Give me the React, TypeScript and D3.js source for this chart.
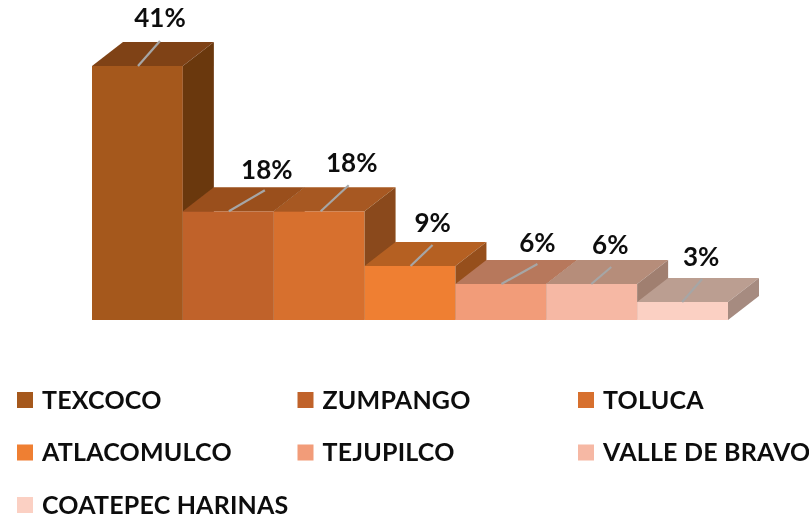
import React from "react";
import * as d3 from "d3";

const categories = ["TEXCOCO", "ZUMPANGO", "TOLUCA", "ATLACOMULCO", "TEJUPILCO", "VALLE DE BRAVO", "COATEPEC HARINAS"];
const labels = ["41%", "18%", "18%", "9%", "6%", "6%", "3%"];
const values = [42.3, 18.1, 18.1, 9, 6, 6, 3];
const frontColors = ["#A5591F", "#C0622A", "#D7702F", "#EF7F30", "#F29C79", "#F6B8A4", "#FBD0C3"];
const topColors = ["#7F4318", "#9A501D", "#A75920", "#B56023", "#B7785C", "#B68D7A", "#BB9E91"];
const sideColors = ["#6B3811", "#7F4318", "#8A4A1A", "#964F1C", "#A47A66", "#A07F70", "#A68B80"];

const W = 809, H = 519;
const baseY = 320, dx = 31, dy = -24;
const x = d3.scaleBand<string>().domain(categories).range([92, 728]);
const y = d3.scaleLinear().domain([0, 42.3]).range([baseY, 66]);

// label text centres and leader-line ends relative to each bar's front-top
const labelOffsets = [[68, -49], [84, -42], [78, -49], [68, -44], [82, -42], [64, -40], [64, -46]];
const leaderFrom = [46, 46, 47, 46, 46, 45, 45];
const leaderTo = [[68, -25], [82, -21], [75, -26], [68, -21], [82, -20], [65, -17], [65, -23]];

const legendCols = d3.scalePoint<number>().domain([0, 1, 2]).range([17, 578]);
const legendRows = d3.scalePoint<number>().domain([0, 1, 2]).range([400, 505]);

const poly = d3.line();

export default function App() {
  return (
    <svg width={W} height={H} style={{ position: "absolute", left: 0, top: 0, background: "#fff" }}
      fontFamily="Lato, Carlito, sans-serif">
      <defs>
        <filter id="soft" x="-5%" y="-5%" width="110%" height="110%">
          <feGaussianBlur stdDeviation="0.45" />
        </filter>
      </defs>
      <g filter="url(#soft)">
        {categories.map((c, i) => {
          const x0 = x(c)!, x1 = x0 + x.bandwidth(), t = y(values[i]);
          return (
            <g key={c}>
              <rect x={x0} y={t} width={x.bandwidth()} height={baseY - t} fill={frontColors[i]} />
              <path d={poly([[x0, t], [x0 + dx, t + dy], [x1 + dx, t + dy], [x1, t]])! + "Z"} fill={topColors[i]} />
              <path d={poly([[x1, t], [x1 + dx, t + dy], [x1 + dx, baseY + dy], [x1, baseY]])! + "Z"} fill={sideColors[i]} />
            </g>
          );
        })}
        {categories.map((c, i) => {
          const x0 = x(c)!, t = y(values[i]);
          return (
            <line key={c} x1={x0 + leaderFrom[i]} y1={t} x2={x0 + leaderTo[i][0]} y2={t + leaderTo[i][1]}
              stroke="#A6A6A6" strokeWidth={2.2} />
          );
        })}
        {categories.map((c, i) => {
          const x0 = x(c)!, t = y(values[i]);
          return (
            <text key={c} x={x0 + labelOffsets[i][0]} y={t + labelOffsets[i][1]} textAnchor="middle"
              dominantBaseline="central" fontSize={26} fontWeight={700} fill="#111">{labels[i]}</text>
          );
        })}
        {categories.map((c, i) => {
          const col = i % 3, row = Math.floor(i / 3);
          const lx = legendCols(col)!, ly = legendRows(row)!;
          return (
            <g key={c}>
              <rect x={lx} y={ly - 8} width={16} height={16} fill={frontColors[i]} />
              <text x={lx + 25} y={ly - 1.5} dominantBaseline="central" fontSize={25} letterSpacing={0.2}
                fontWeight={700} fill="#111">{c}</text>
            </g>
          );
        })}
      </g>
    </svg>
  );
}
